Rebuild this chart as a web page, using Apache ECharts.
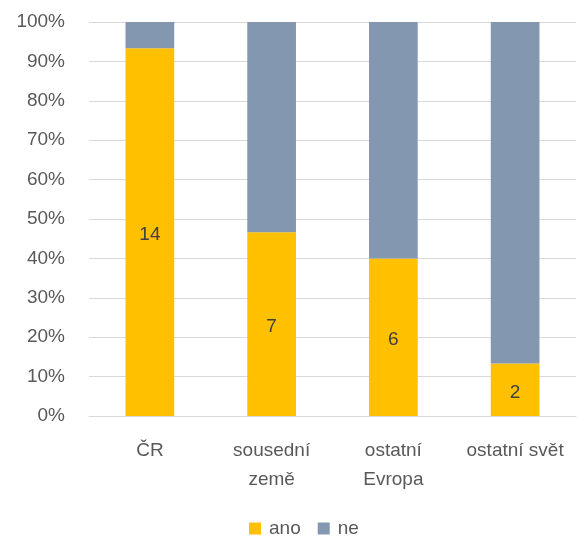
<!DOCTYPE html>
<html>
<head>
<meta charset="utf-8">
<script src="https://cdn.jsdelivr.net/npm/echarts@6/dist/echarts.min.js"></script>
<style>
  html, body { margin: 0; padding: 0; background: #fff; }
  #chart { width: 578px; height: 540px; }
</style>
</head>
<body>
<div id="chart"></div>
<script>
var categories = ['ČR', 'sousední země', 'ostatní Evropa', 'ostatní svět'];
var ano = [14, 7, 6, 2];
var ne = [1, 8, 9, 13];
var yTicks = [0, 10, 20, 30, 40, 50, 60, 70, 80, 90, 100];

// podíly v procentech (100% skládaný sloupcový graf)
var anoPct = ano.map(function (v, i) { return v / (v + ne[i]) * 100; });
var nePct = ne.map(function (v, i) { return v / (ano[i] + v) * 100; });

var font = 'Liberation Sans';
var textColor = '#595959';

var option = {
    animation: false,
    textStyle: { fontFamily: font },
    grid: { left: 89, right: 2, top: 22, bottom: 124 },
    legend: {
        top: 519,
        left: 249,
        itemWidth: 12,
        itemHeight: 12,
        itemGap: 17,
        icon: 'rect',
        padding: 0,
        textStyle: { color: textColor, fontSize: 19, fontFamily: font, padding: [0, 0, 0, 3] },
        data: ['ano', 'ne']
    },
    xAxis: {
        type: 'category',
        data: categories,
        axisTick: { show: false },
        axisLine: { lineStyle: { color: '#d9d9d9' } },
        axisLabel: {
            color: textColor,
            fontSize: 19,
            margin: 20,
            lineHeight: 29,
            interval: 0,
            formatter: function (v) {
                return v === 'ostatní svět' ? v : v.replace(' ', '\n');
            }
        }
    },
    yAxis: {
        type: 'value',
        min: yTicks[0],
        max: yTicks[yTicks.length - 1],
        interval: 10,
        axisLine: { show: false },
        axisTick: { show: false },
        splitLine: { lineStyle: { color: '#d9d9d9' } },
        axisLabel: {
            color: textColor,
            fontSize: 19,
            margin: 24,
            formatter: '{value}%'
        }
    },
    series: [
        {
            name: 'ano',
            type: 'bar',
            stack: 'total',
            barWidth: '40%',
            itemStyle: { color: '#FFC000' },
            label: {
                show: true,
                position: 'inside',
                color: '#404040',
                fontSize: 19,
                offset: [0, 3],
                formatter: function (p) { return ano[p.dataIndex]; }
            },
            data: anoPct
        },
        {
            name: 'ne',
            type: 'bar',
            stack: 'total',
            barWidth: '40%',
            itemStyle: { color: '#8497B0' },
            data: nePct
        }
    ]
};

var myChart = echarts.init(document.getElementById('chart'));
myChart.setOption(option);
</script>
</body>
</html>
